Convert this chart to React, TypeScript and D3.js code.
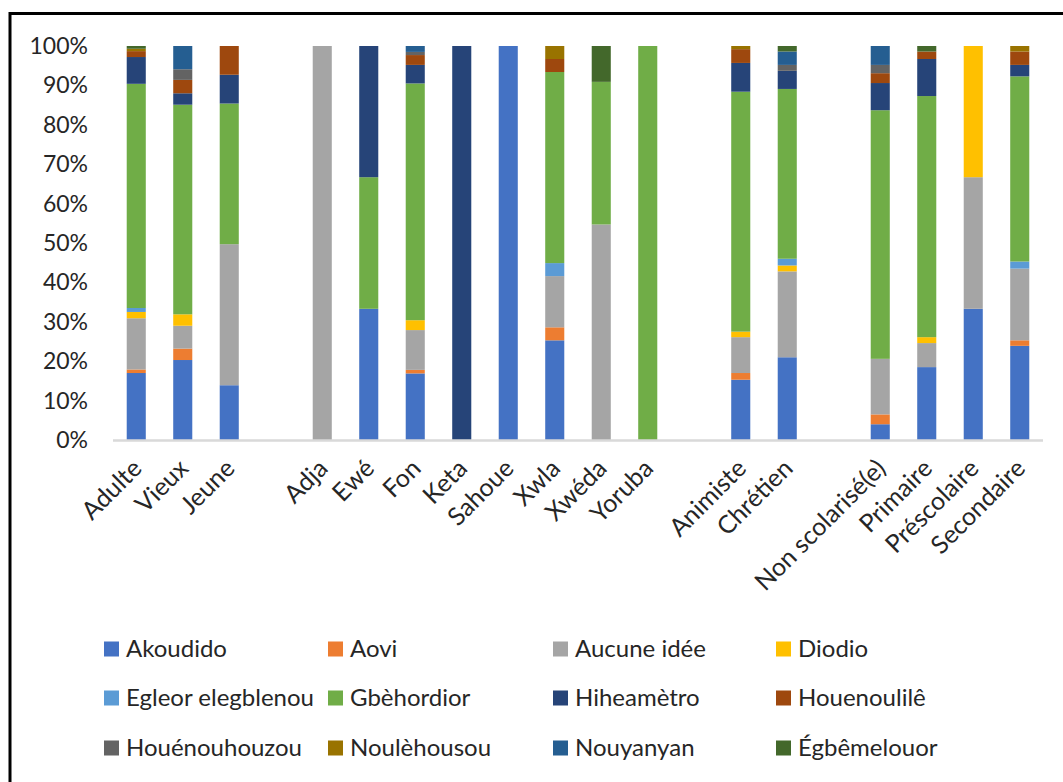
import React from "react";
import * as d3 from "d3";

const categories = ["Adulte", "Vieux", "Jeune", " ", "Adja", "Ewé", "Fon", "Keta", "Sahoue", "Xwla", "Xwéda", "Yoruba", "  ", "Animiste", "Chrétien", "   ", "Non scolarisé(e)", "Primaire", "Préscolaire", "Secondaire"];

const seriesNames = ["Akoudido", "Aovi", "Aucune idée", "Diodio", "Egleor elegblenou", "Gbèhordior", "Hiheamètro", "Houenoulilê", "Houénouhouzou", "Noulèhousou", "Nouyanyan", "Égbêmelouor"];

const seriesColors = ["#4472C4", "#ED7D31", "#A5A5A5", "#FFC000", "#5B9BD5", "#70AD47", "#264478", "#9E480E", "#636363", "#997300", "#255E91", "#43682B"];

// values per series, one per category (percent)
const akoudido =       [17.0, 20.3, 13.9, 0, 0, 33.3, 16.9, 0, 100, 25.3, 0, 0, 0, 15.3, 21.0, 0, 4.0, 18.5, 33.3, 23.9];
const aovi =           [0.9, 2.9, 0, 0, 0, 0, 0.9, 0, 0, 3.3, 0, 0, 0, 1.7, 0, 0, 2.5, 0, 0, 1.4];
const aucuneIdee =     [13.0, 5.8, 35.8, 0, 100, 0, 10.1, 0, 0, 13.0, 54.7, 0, 0, 9.1, 21.8, 0, 14.1, 6.1, 33.4, 18.2];
const diodio =         [1.6, 2.9, 0, 0, 0, 0, 2.5, 0, 0, 0, 0, 0, 0, 1.4, 1.5, 0, 0, 1.5, 33.3, 0];
const egleor =         [1.0, 0, 0, 0, 0, 0, 0, 0, 0, 3.3, 0, 0, 0, 0, 1.7, 0, 0, 0, 0, 1.8];
const gbehordior =     [56.9, 53.2, 35.7, 0, 0, 33.4, 60.1, 0, 0, 48.5, 36.2, 100, 0, 60.9, 43.1, 0, 63.1, 61.2, 0, 47.0];
const hiheametro =     [6.8, 2.9, 7.3, 0, 0, 33.3, 4.7, 100, 0, 0, 0, 0, 0, 7.3, 4.6, 0, 6.9, 9.4, 0, 2.9];
const houenoulile =    [1.5, 3.4, 7.3, 0, 0, 0, 2.5, 0, 0, 3.3, 0, 0, 0, 3.5, 0, 0, 2.5, 1.9, 0, 3.4];
const houenouhouzou =  [0, 2.7, 0, 0, 0, 0, 0.8, 0, 0, 0, 0, 0, 0, 0, 1.5, 0, 2.1, 0, 0, 0];
const noulehousou =    [0.6, 0, 0, 0, 0, 0, 0, 0, 0, 3.3, 0, 0, 0, 0.8, 0, 0, 0, 0, 0, 1.4];
const nouyanyan =      [0, 5.9, 0, 0, 0, 0, 1.5, 0, 0, 0, 0, 0, 0, 0, 3.4, 0, 4.8, 0, 0, 0];
const egbemelouor =    [0.7, 0, 0, 0, 0, 0, 0, 0, 0, 0, 9.1, 0, 0, 0, 1.4, 0, 0, 1.4, 0, 0];

const seriesValues = [akoudido, aovi, aucuneIdee, diodio, egleor, gbehordior, hiheametro, houenoulile, houenouhouzou, noulehousou, nouyanyan, egbemelouor];

const yTicks = [0, 10, 20, 30, 40, 50, 60, 70, 80, 90, 100];

const W = 1063;
const H = 782;
const FONT = "Lato, 'Liberation Sans', sans-serif";

export default function App() {
  const x = d3.scaleBand<string>().domain(categories).range([113, 1043]).paddingInner(0.59).paddingOuter(0.295);
  const y = d3.scaleLinear().domain([0, 100]).range([440, 46]);

  const table = categories.map((c, i) => {
    const row: any = { cat: c };
    seriesNames.forEach((s, j) => (row[s] = seriesValues[j][i]));
    return row;
  });
  const stacked = d3.stack<any>().keys(seriesNames)(table);

  const legendCols = [104, 328, 553, 776];
  const legendRows = [649, 698, 748];

  return (
    <div style={{ position: "absolute", left: 0, top: 0 }}>
      <svg width={W} height={H} style={{ display: "block" }}>
        <rect x={0} y={0} width={W} height={H} fill="#fff" />
        <rect x={10} y={13.5} width={1200} height={900} fill="none" stroke="#000" strokeWidth={3} />
        {yTicks.map((t) => (
          <text key={t} x={88} y={y(t)} dy="0.35em" textAnchor="end" fontFamily={FONT} fontSize={23} fill="#262626">
            {t}%
          </text>
        ))}
        {stacked.map((layer, si) => (
          <g key={layer.key} fill={seriesColors[si]}>
            {layer.map((d, i) => {
              const h = y(d[0]) - y(d[1]);
              if (h <= 0) return null;
              return <rect key={i} x={x(categories[i])} y={y(d[1])} width={x.bandwidth()} height={h} />;
            })}
          </g>
        ))}
        <line x1={113} x2={1043} y1={y(0) + 0.5} y2={y(0) + 0.5} stroke="#D9D9D9" strokeWidth={2.5} />
        {categories.map((c) =>
          c.trim() === "" ? null : (
            <text
              key={c}
              transform={`translate(${(x(c) as number) + x.bandwidth() / 2 + 7},${470}) rotate(-45)`}
              textAnchor="end"
              fontFamily={FONT}
              fontSize={25}
              fill="#262626"
            >
              {c}
            </text>
          )
        )}
        {seriesNames.map((s, i) => {
          const cx = legendCols[i % 4];
          const cy = legendRows[Math.floor(i / 4)];
          return (
            <g key={s}>
              <rect x={cx} y={cy - 7.5} width={15} height={15} fill={seriesColors[i]} />
              <text x={cx + 22} y={cy} dy="0.35em" fontFamily={FONT} fontSize={24} fill="#262626">
                {s}
              </text>
            </g>
          );
        })}
      </svg>
    </div>
  );
}
